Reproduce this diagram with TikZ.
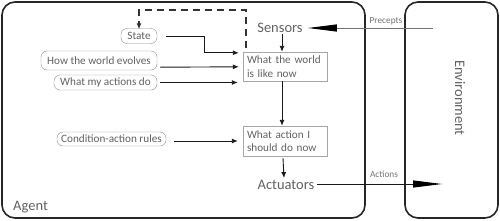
\documentclass[tikz,border=0pt]{standalone}
\usepackage{fontspec}
\setmainfont{Carlito}
\usetikzlibrary{arrows.meta,calc}
\begin{document}
\begin{tikzpicture}[x=1pt,y=-1pt,
  bigbox/.style={draw=black!85, line width=1.6pt, rounded corners=13pt, inner sep=0pt},
  knowbox/.style={draw=black!45, rounded corners=6pt, text=black!62, font=\fontsize{11.2}{13}\selectfont, inner sep=0pt, minimum height=15pt},
  procbox/.style={draw=black!35, text=black!62, align=left, font=\fontsize{11.2}{13.5}\selectfont, text width=76pt, inner xsep=4pt, inner ysep=0pt, minimum width=84pt, minimum height=29pt},
  bigtxt/.style={text=black!62, font=\fontsize{14.5}{16}\selectfont, inner sep=0pt},
  smalltxt/.style={text=black!55, font=\fontsize{9.3}{11}\selectfont, inner sep=0pt},
  arr/.style={-{Latex[length=6pt,width=5pt]}, line width=0.9pt, draw=black!90},
  bigarr/.style={-{Triangle[length=29pt,width=7pt,color=black,fill=black]}, line width=1pt}]
\useasboundingbox (0,0) rectangle (500,220);
% big boxes
\node[bigbox, minimum width=363pt, minimum height=216pt] (agent) at (183.5,110) {};
\node[bigbox, minimum width=93pt, minimum height=216pt] (env) at (451.5,110) {};
\node[bigtxt, anchor=west] (agentlbl) at (13,207) {Agent};
\node[bigtxt, rotate=-90] (envlbl) at (460,98) {Environment};
% knowledge boxes
\node[knowbox, minimum width=36pt] (state) at (139,36) {State};
\node[knowbox, minimum width=116pt, minimum height=19pt] (evolves) at (99,60.5) {How the world evolves};
\node[knowbox, minimum width=103pt] (actions) at (105.5,82.5) {What my actions do};
\node[knowbox, minimum width=109pt, minimum height=14pt] (rules) at (111.5,139) {Condition-action rules};
% process
\node[bigtxt] (sensors) at (280,28) {Sensors};
\node[procbox] (box1) at (285,66.5) {What the world\\is like now};
\node[procbox, minimum height=30pt] (box2) at (285,141) {What action I\\should do now};
\node[bigtxt] (act) at (286,185) {Actuators};
% labels
\node[smalltxt] (plbl) at (386,21) {Precepts};
\node[smalltxt] (albl) at (384,174) {Actions};
% connectors
\coordinate (dstart) at (246,48);
\draw[arr, draw=black!80, dash pattern=on 7pt off 5pt, line width=1.25pt] (dstart) -- (246,10) -| ([yshift=-1pt]state.north);
\draw[arr] ([xshift=9pt]state.east) -- ++(38,0) |- ([shift={(-4,1)}]box1.north west);
\draw[arr] ([shift={(3,-3)}]evolves.south east) -- ([shift={(-4,15)}]box1.north west);
\draw[arr] ([xshift=3pt]actions.east) -- ($(box1.west |- actions.east)+(-5,0)$);
\draw[arr] ($(rules.east |- box2.west)+(8,0)$) -- ([xshift=-5pt]box2.west);
\draw[arr] ([shift={(2,1)}]sensors.south) -- ([xshift=-3pt]box1.north);
\draw[arr] ([xshift=-3pt]box1.south) -- ([xshift=-3pt]box2.north);
\draw[arr] ([shift={(-2,2)}]box2.south) -- ([shift={(-2,-2)}]act.north);
\coordinate (penv) at (433,28);
\draw[bigarr, draw=black!55] (penv) -- ([xshift=5pt]sensors.east);
\coordinate (aenv) at (442,184);
\draw[bigarr, draw=black!90] ([xshift=2pt]act.east |- aenv) -- (aenv);
\end{tikzpicture}
\end{document}
